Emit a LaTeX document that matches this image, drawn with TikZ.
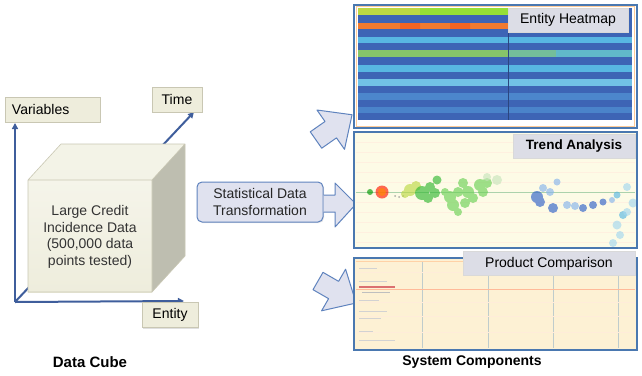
\documentclass[tikz,border=0pt]{standalone}
\usepackage{fontspec}
\setmainfont{Liberation Sans}
\usetikzlibrary{arrows.meta,shadows}
\definecolor{cream}{HTML}{EEEDDC}
\definecolor{creamedge}{HTML}{C9C7B3}
\definecolor{axisblue}{HTML}{3F5E9C}
\definecolor{lav}{HTML}{E0E2EF}
\definecolor{lavedge}{HTML}{5F83BE}
\definecolor{panelblue}{HTML}{4A78B0}
\definecolor{hblue}{HTML}{3D64B5}
\definecolor{hcyan}{HTML}{58B6E2}
\definecolor{hmid}{HTML}{4C86CC}
\definecolor{hyg}{HTML}{BCD844}
\definecolor{horange}{HTML}{F07A30}
\definecolor{hgreen}{HTML}{86C46A}
\definecolor{paper}{HTML}{FDFBE6}
\definecolor{labgray}{HTML}{DCDDE6}
\definecolor{dotblue}{HTML}{2F60C8}
\definecolor{dotlblue}{HTML}{86B4EC}
\begin{document}
\begin{tikzpicture}[x=1pt,y=-1pt,
  txt/.style={font=\fontsize{14}{16.7}\selectfont},
  axlbl/.style={txt, draw=creamedge, fill=cream, minimum height=25pt, inner sep=0pt,
     drop shadow={opacity=0.25, shadow xshift=1.2pt, shadow yshift=-1.2pt}},
  plabel/.style={txt, draw=white!85!black, fill=labgray, minimum height=24pt, inner sep=0pt},
  axis/.style={draw=axisblue, line width=2pt, -{Triangle[length=6pt,width=6pt]}},
  blockarrow/.style={fill=lav, draw=lavedge, line width=1pt, line join=round},
  panel/.style={draw=panelblue, line width=1.4pt},
  caption/.style={font=\fontsize{15}{17}\selectfont\bfseries}
]
\useasboundingbox (0,0) rectangle (642,375);
\fill[white] (0,0) rectangle (642,375);

% ---------- axes ----------
\coordinate (origin) at (15,302);
\coordinate (vtop) at (15,123);
\coordinate (htip) at (184,301);
\coordinate (ttip) at (194,112);
\draw[axis] (origin) -- (vtop);
\draw[axis] (origin) -- (htip);
\draw[axis] (origin) -- (ttip);

% ---------- cube ----------
\fill[cream!70!white] (28,180) -- (61,144) -- (185,144) -- (152,180) -- cycle;
\fill[cream!80!black] (152,180) -- (185,144) -- (185,256) -- (152,292) -- cycle;
\shade[top color=cream!60!white, bottom color=cream] (28,180) rectangle (152,292);
\draw[creamedge, line width=0.6pt, line join=round]
  (28,180) -- (61,144) -- (185,144) -- (185,256) -- (152,292) -- (28,292) -- cycle
  (28,180) -- (152,180) -- (185,144) (152,180) -- (152,292);
\node[txt, align=center, text=black!80] (cube) at (90,237)
  {Large Credit\\Incidence Data\\(500,000 data\\points tested)};

% ---------- axis labels ----------
\node[axlbl, minimum width=95pt, text width=81pt, inner xsep=7pt, align=left] (vars) at (52.5,109.5) {Variables};
\node[axlbl, minimum width=50pt] (time) at (177,99.5) {Time};
\node[axlbl, minimum width=56pt] (entity) at (170,315) {Entity};

% ---------- transformation box + arrows ----------
\begin{scope}[shift={(316,140)}, rotate=35]
  \draw[blockarrow] (0,-10) -- (18,-10) -- (18,-24) -- (44,0) -- (18,24) -- (18,10) -- (0,10) -- cycle;
\end{scope}
\begin{scope}[shift={(318,281)}, rotate=-30]
  \draw[blockarrow] (0,-10) -- (18,-10) -- (18,-24) -- (44,0) -- (18,24) -- (18,10) -- (0,10) -- cycle;
\end{scope}
\node[txt, draw=lavedge, fill=lav, rounded corners=5pt, line width=1pt, minimum width=126pt,
  minimum height=40pt, align=center, inner sep=0pt, text=black!85,
  drop shadow={opacity=0.2, shadow xshift=1pt, shadow yshift=-1pt}] (stat) at (260,202)
  {Statistical Data\\Transformation};
\draw[blockarrow] (stat.east |- 0,195) -- (335,195) -- (335,183) -- (356,204) -- (335,227) -- (335,212) -- (stat.east |- 0,212);

% ---------- heatmap panel ----------
\fill[white] (354,5) rectangle (637,128);
\fill[hblue] (358,8) rectangle (632,120);
\fill[hyg] (358,8) rectangle (508,15);
\fill[hyg!80!green] (420,8) rectangle (508,15);
\fill[horange] (358,23) rectangle (508,29);
\fill[red!70!orange, opacity=.25] (400,23) rectangle (420,29) (450,23) rectangle (470,29);
\fill[hcyan] (358,37) rectangle (632,43);
\fill[hgreen] (358,50) rectangle (508,57);
\fill[hgreen!60!hcyan] (508,50) rectangle (556,57);
\fill[hcyan!80!hgreen] (556,50) rectangle (632,57);
\fill[hcyan] (358,65) rectangle (632,72);
\fill[hcyan!85!white] (358,79) rectangle (632,86);
\fill[hmid] (358,93) rectangle (632,100);
\fill[hmid!90!hblue] (358,107) rectangle (632,113);
\draw[hblue!70!black, line width=0.8pt] (508,8) -- (508,120);
\draw[orange!40, line width=0.5pt] (356.5,6.5) rectangle (634.5,126.5);
\draw[panel] (354,5) rectangle (637,128);
\node[plabel, minimum width=120pt] (heat) at (568,20) {Entity Heatmap};

% ---------- trend panel ----------
\fill[paper] (354,132) rectangle (637,248);
\foreach \yy in {142,152,...,242} \draw[orange!12, line width=0.5pt] (356,\yy) -- (635,\yy);
\draw[green!30!gray!50, line width=0.6pt] (356,192) -- (635,192);
\begin{scope}[opacity=.65]
  \fill[green!60!black] (370,192) circle (3pt);
  \fill[red!80!orange] (382,192) circle (6.5pt);
  \fill[orange!90!yellow] (382,192) circle (4pt);
  \fill[gray] (395,196) circle (1pt) (399,197) circle (1pt) (403,196) circle (1pt);
  \fill[hyg] (410,190) circle (6pt) (416,186) circle (5pt) (405,194) circle (4pt);
  \fill[green!65!black!80] (422,193) circle (7pt) (430,187) circle (5pt) (437,180) circle (4.5pt)
     (435,193) circle (5pt) (428,198) circle (5pt);
  \fill[hgreen!80!green] (450,197) circle (6pt) (453,205) circle (6pt) (458,212) circle (4pt)
     (463,183) circle (5pt) (468,192) circle (6pt) (473,198) circle (5pt) (480,185) circle (6pt)
     (483,192) circle (5pt) (487,183) circle (5pt) (465,203) circle (5pt) (458,192) circle (5pt)
     (445,192) circle (4pt);
  \fill[hgreen!45!white] (497,180) circle (5pt) (487,177) circle (4pt);
  \fill[dotblue] (537,197) circle (6pt) (540,202) circle (5pt) (553,208) circle (5pt)
     (583,208) circle (4pt) (593,205) circle (4pt) (603,202) circle (3.5pt);
  \fill[dotlblue] (550,192) circle (4pt) (543,188) circle (4pt) (557,182) circle (3.5pt)
     (567,205) circle (4pt) (575,206) circle (4pt) (612,200) circle (3pt);
  \fill[hcyan] (617,195) circle (3.5pt) (623,215) circle (4pt);
  \fill[hcyan!55!white] (627,187) circle (4pt) (633,203) circle (4.5pt) (617,225) circle (4.5pt)
     (620,235) circle (4pt) (613,243) circle (4pt) (627,212) circle (4pt);
\end{scope}
\draw[panel] (354,132) rectangle (637,248);
\node[plabel, minimum width=122pt, font=\fontsize{13.5}{16}\selectfont\bfseries] (trend) at (574,146.5) {Trend Analysis};

% ---------- product comparison panel ----------
\fill[paper!92!orange] (354,258) rectangle (637,350);
\foreach \xx in {422,488,553,618} \draw[teal!25!gray!40, line width=0.7pt] (\xx,262) -- (\xx,348);
\foreach \yy in {272,302,316,332} \draw[orange!15, line width=0.5pt] (356,\yy) -- (635,\yy);
\draw[red!35!orange!40, line width=0.8pt] (356,289) -- (635,289);
\draw[orange!35, line width=0.6pt] (356,261) -- (635,261);
\foreach \yy/\ll in {268/18,281/28,300/20,311/28,318/22,331/14,340/36} \draw[gray!35, line width=1pt] (359,\yy) -- ++(\ll,0);
\draw[red!60!gray!70, line width=1.2pt] (359,287) -- (395,287);
\draw[gray!50, line width=1pt] (362,292) -- (390,292);
\draw[panel] (354,258) rectangle (637,350);
\node[plabel, minimum width=172pt] (prod) at (549,263.5) {Product Comparison};

% ---------- captions ----------
\node[caption] (dc) at (90,362) {Data Cube};
\node[caption, font=\fontsize{14}{16}\selectfont\bfseries] (sc) at (472,362) {System Components};
\end{tikzpicture}
\end{document}
